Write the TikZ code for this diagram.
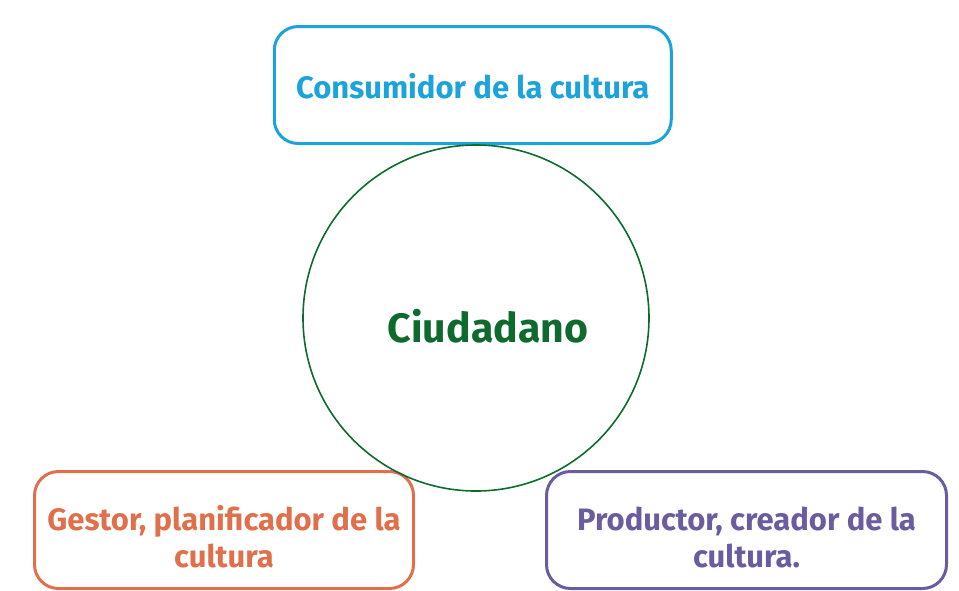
\documentclass[tikz,border=0pt]{standalone}
\usepackage{fontspec}
\setmainfont{Fira Sans}
\definecolor{consumo}{HTML}{1BA3DA}
\definecolor{gestor}{HTML}{E0704B}
\definecolor{productor}{HTML}{6B5C9F}
\definecolor{ciudad}{HTML}{0F6A2E}
\begin{document}
\begin{tikzpicture}[x=1pt,y=-1pt,
    rolebox/.style={draw,line width=3pt,rounded corners=24pt,fill=none,
      inner sep=0pt,minimum height=117pt},
    roletext/.style={align=center,inner sep=0pt,
      font=\fontsize{31}{37}\selectfont\bfseries},
    centercircle/.style={circle,draw=ciudad,line width=1.6pt,inner sep=0pt,
      minimum size=346pt}]
    \useasboundingbox (0,0) rectangle (959,590);

    %%%% Roles %%%%%%%%%%%%%%%%%%%%%%%%%%%%%%%%%%%%%%%%%%%%%%%%%%%%%%%%%%%
    \node[rolebox,draw=consumo,minimum width=397pt] (consumidor) at (472.75,85) {};
    \node[roletext,text=consumo] (consumidortext) at ([yshift=-1pt]consumidor.center)
      {Consumidor de la cultura};

    \node[rolebox,draw=gestor,minimum width=379pt] (gestor) at (224,530) {};
    \node[roletext,text=gestor] (gestortext) at ([yshift=-7pt]gestor.center)
      {Gestor, planificador de la\\cultura};

    \node[rolebox,draw=productor,minimum width=400pt] (productor) at (746.5,530) {};
    \node[roletext,text=productor] (productortext) at ([yshift=-7pt]productor.center)
      {Productor, creador de la\\cultura.};

    %%%% Ciudadano %%%%%%%%%%%%%%%%%%%%%%%%%%%%%%%%%%%%%%%%%%%%%%%%%%%%%%%
    \node[centercircle] (ciudadano) at (476,318) {};
    \node[text=ciudad,font=\fontsize{41}{48}\selectfont\bfseries]
      (ciudadanotext) at (488,326) {Ciudadano};
\end{tikzpicture}
\end{document}
